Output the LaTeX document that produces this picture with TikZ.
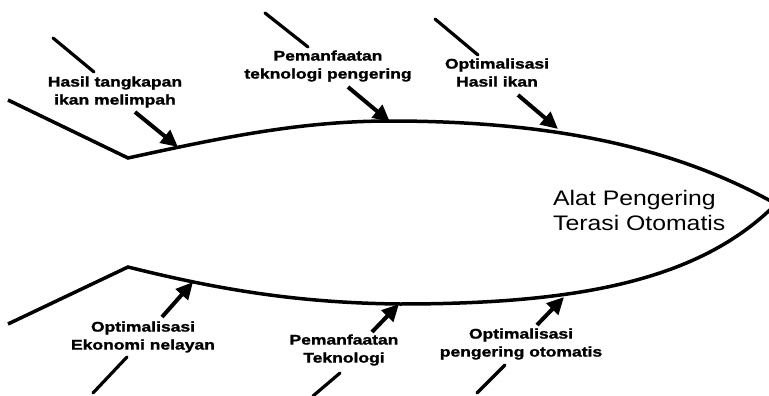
\documentclass[tikz,border=0pt]{standalone}
\usepackage{fontspec}
\setmainfont{Liberation Sans}
\newfontfamily\lblfont[BoldFeatures={FakeBold=1.2}]{Liberation Sans}
\usetikzlibrary{arrows.meta}
\newcommand{\lbl}[2]{\scalebox{1.25}[1]{\fontsize{14}{18}\lblfont\bfseries\begin{tabular}{@{}c@{}}#1\\#2\end{tabular}}}
\begin{document}
\begin{tikzpicture}[x=1pt,y=-1pt,
  bone/.style={line width=3.5pt},
  rib/.style={line width=3.2pt, line cap=round},
  arr/.style={line width=4pt, -{Triangle[length=17pt,width=16pt]}},
  lab/.style={inner sep=0pt, align=center}]
\useasboundingbox (0,0) rectangle (769,396);
\fill[white] (0,0) rectangle (769,396);
% fish body
\coordinate (upTail) at (8,100);
\coordinate (upJoin) at (128,158);
\coordinate (upTop) at (390,121);
\coordinate (nose) at (776,204);
\coordinate (loTail) at (8,324);
\coordinate (loJoin) at (128,267);
\coordinate (loBot) at (400,304);
\draw[bone, line join=miter] (upTail) -- (upJoin) .. controls (220,138) and (300,121) .. (upTop)
   .. controls (560,121) and (680,150) .. (nose);
\draw[bone, line join=miter] (loTail) -- (loJoin) .. controls (220,290) and (300,303) .. (loBot)
   .. controls (580,304) and (700,280) .. (nose);
% head text
\node[inner sep=0pt, anchor=west] (head) at (553,213) {\scalebox{1.18}[1]{\fontsize{21}{25}\selectfont\begin{tabular}{@{}l@{}}Alat Pengering\\Terasi Otomatis\end{tabular}}};
% labels
\node[lab] (l1) at (115,92) {\lbl{Hasil tangkapan}{ikan melimpah}};
\node[lab] (l2) at (328,66) {\lbl{Pemanfaatan}{teknologi pengering}};
\node[lab] (l3) at (497,74) {\lbl{Optimalisasi}{Hasil ikan}};
\node[lab] (l4) at (143,337) {\lbl{Optimalisasi}{Ekonomi nelayan}};
\node[lab] (l5) at (344,350) {\lbl{Pemanfaatan}{Teknologi}};
\node[lab] (l6) at (521,344) {\lbl{Optimalisasi}{pengering otomatis}};
% upper ribs
\coordinate (r1a) at (53,38);  \coordinate (r1b) at (94,72);
\coordinate (a1s) at (135,112); \coordinate (a1t) at (178,147);
\coordinate (r2a) at (265,13); \coordinate (r2b) at (308,47);
\coordinate (a2s) at (348,87); \coordinate (a2t) at (390,122);
\coordinate (r3a) at (435,19); \coordinate (r3b) at (478,55);
\coordinate (a3s) at (518,95); \coordinate (a3t) at (558,129);
\draw[rib] (r1a) -- (r1b); \draw[arr] (a1s) -- (a1t);
\draw[rib] (r2a) -- (r2b); \draw[arr] (a2s) -- (a2t);
\draw[rib] (r3a) -- (r3b); \draw[arr] (a3s) -- (a3t);
% lower ribs
\coordinate (r4a) at (93,393);  \coordinate (r4b) at (127,357);
\coordinate (a4s) at (162,317); \coordinate (a4t) at (193,282);
\coordinate (r5a) at (313,396); \coordinate (r5b) at (340,373);
\coordinate (a5s) at (372,332); \coordinate (a5t) at (399,304);
\coordinate (r6a) at (477,393); \coordinate (r6b) at (505,365);
\coordinate (a6s) at (537,325); \coordinate (a6t) at (564,297);
\draw[rib] (r4a) -- (r4b); \draw[arr] (a4s) -- (a4t);
\draw[rib] (r5a) -- (r5b); \draw[arr] (a5s) -- (a5t);
\draw[rib] (r6a) -- (r6b); \draw[arr] (a6s) -- (a6t);
\end{tikzpicture}
\end{document}
